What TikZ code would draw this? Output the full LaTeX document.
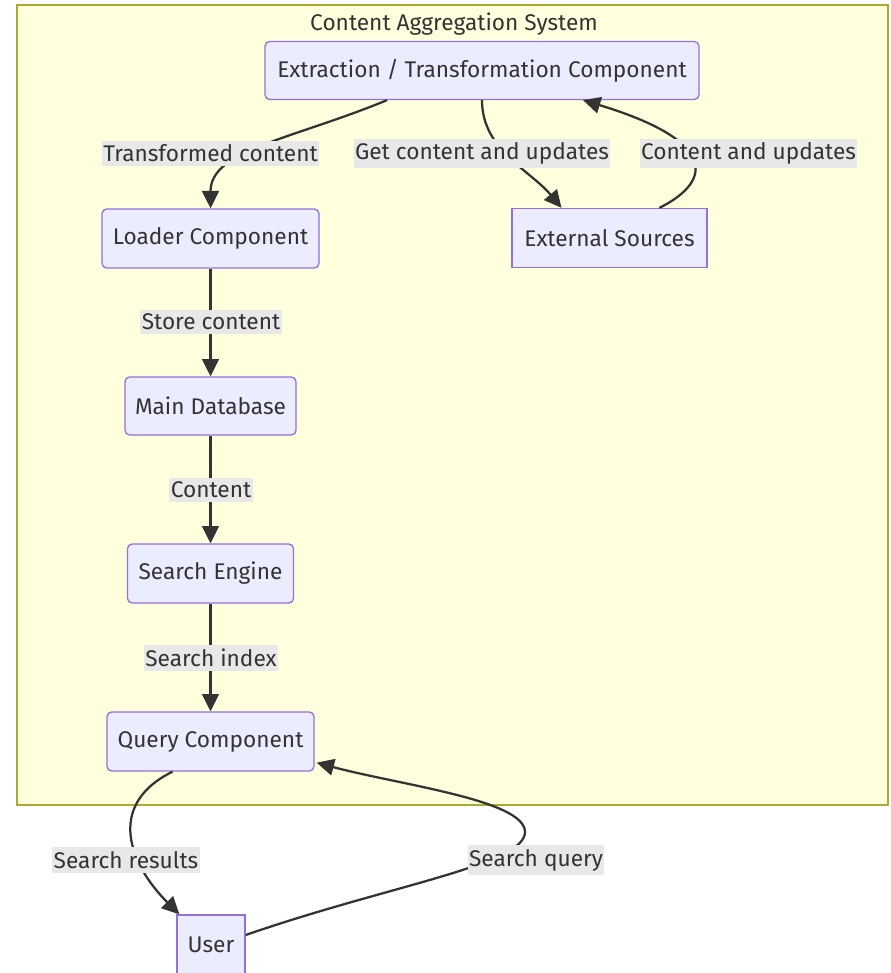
\documentclass[tikz,border=0pt]{standalone}
\usepackage{fontspec}
\setmainfont{Fira Sans}
\usetikzlibrary{arrows.meta,calc}
\definecolor{nodefill}{HTML}{ECECFF}
\definecolor{nodeline}{HTML}{9370DB}
\definecolor{clusterfill}{HTML}{FFFFDE}
\definecolor{clusterline}{HTML}{AAAA33}
\definecolor{edgecol}{HTML}{333333}
\definecolor{labelfill}{HTML}{E8E8E8}
\definecolor{textcol}{HTML}{333333}

\begin{document}
\begin{tikzpicture}[x=0.75pt,y=-0.75pt,
  every node/.style={font=\fontsize{17}{20}\selectfont, text=textcol},
  box/.style={draw=nodeline, fill=nodefill, line width=1pt, rounded corners=3.5pt, inner sep=0pt},
  sqbox/.style={box, rounded corners=0pt},
  lbl/.style={fill=labelfill, inner xsep=1pt, inner ysep=3pt},
  flow/.style={draw=edgecol, line width=1.7pt, -{Triangle[length=13pt,width=12.5pt]}}
]
% page and cluster frame
\useasboundingbox[fill=white] (0,0) rectangle (890,973);
\draw[fill=clusterfill, draw=clusterline, line width=1.1pt] (17,5) rectangle (888,805);
\node (title) at (454,24) {Content Aggregation System};

% components
\node[box, minimum width=325.5pt, minimum height=43.5pt] (extract) at (482,70.5) {Extraction / Transformation Component};
\node[box, minimum width=162.75pt, minimum height=44.25pt] (loader) at (210.5,238.5) {Loader Component};
\node[sqbox, minimum width=146.25pt, minimum height=44.25pt] (ext) at (609.5,238) {External Sources};
\node[box, minimum width=128.25pt, minimum height=43.5pt] (db) at (210.5,406) {Main Database};
\node[box, minimum width=124.5pt, minimum height=44.25pt] (engine) at (210.5,573.5) {Search Engine};
\node[box, minimum width=155.25pt, minimum height=44.25pt] (query) at (210.5,741.5) {Query Component};
\node[sqbox, minimum width=51pt, minimum height=45pt] (user) at (211,945) {User};

% connectors
\draw[flow] ($(extract.south)+(-95,0)$) .. controls (290,140) and (210.5,150) .. (loader.north);
\draw[flow] (extract.south) .. controls (482,150) and (530,170) .. ($(ext.north)+(-48,0)$);
\draw[flow] ($(ext.north)+(50,0)$) .. controls (715,180) and (715,140) .. ($(extract.south)+(101,0)$);
\draw[flow] (loader.south) -- (db.north);
\draw[flow] (db.south) -- (engine.north);
\draw[flow] (engine.south) -- (query.north);
\draw[flow] ($(query.south)+(-38,0)$) .. controls (105,805) and (130,865) .. ($(user.north west)+(3,0)$);
\draw[flow] ($(user.east)+(0,-10)$) .. controls (390,885) and (525,865) .. (525,832)
  .. controls (525,800) and (400,785) .. ($(query.south east)+(2,-9)$);

% connector labels
\node[lbl] (l1) at (210.5,153.5) {Transformed content};
\node[lbl] (l2) at (482,153.5) {Get content and updates};
\node[lbl] (l3) at (748.5,153.5) {Content and updates};
\node[lbl] (l4) at (211,322) {Store content};
\node[lbl] (l5) at (211,490) {Content};
\node[lbl] (l6) at (211,658) {Search index};
\node[lbl] (l7) at (126,860) {Search results};
\node[lbl] (l8) at (536,860) {Search query};
\end{tikzpicture}
\end{document}
